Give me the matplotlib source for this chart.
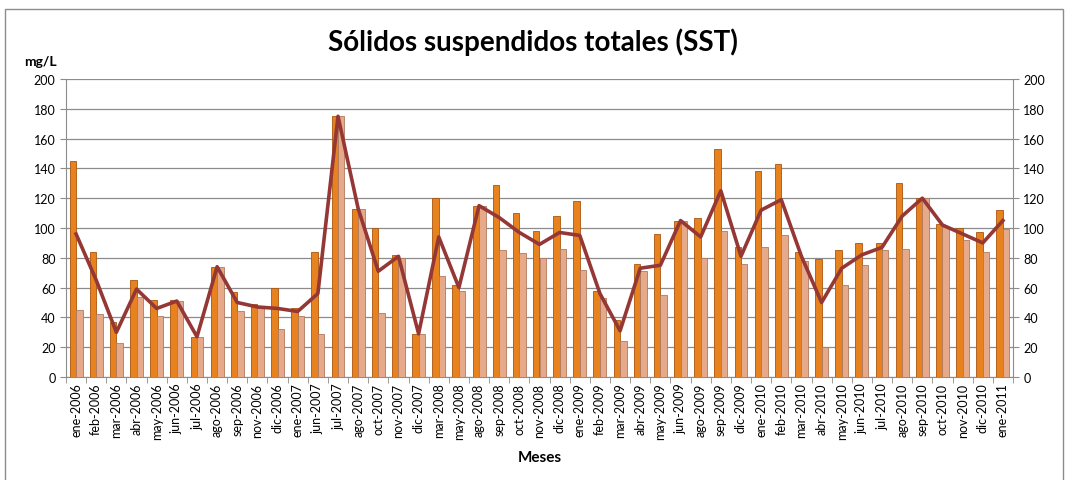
import numpy as np
import matplotlib.pyplot as plt
from matplotlib.patches import Rectangle

# meses con muestreo
meses = ["ene-2006", "feb-2006", "mar-2006", "abr-2006", "may-2006", "jun-2006",
         "jul-2006", "ago-2006", "sep-2006", "nov-2006", "dic-2006", "ene-2007",
         "jun-2007", "jul-2007", "ago-2007", "oct-2007", "nov-2007", "dic-2007",
         "mar-2008", "may-2008", "ago-2008", "sep-2008", "oct-2008", "nov-2008",
         "dic-2008", "ene-2009", "feb-2009", "mar-2009", "abr-2009", "may-2009",
         "jun-2009", "ago-2009", "sep-2009", "dic-2009", "ene-2010", "feb-2010",
         "mar-2010", "abr-2010", "may-2010", "jun-2010", "jul-2010", "ago-2010",
         "sep-2010", "oct-2010", "nov-2010", "dic-2010", "ene-2011"]

# barras naranjas (serie 1)
sst_1 = [145, 84, 37, 65, 52, 52, 27, 74, 57, 49, 60, 46, 84, 175, 113, 100, 82, 29,
         120, 62, 115, 129, 110, 98, 108, 118, 58, 38, 76, 96, 105, 107, 153, 87,
         138, 143, 84, 79, 85, 90, 90, 130, 120, 103, 100, 97, 112]

# barras claras (serie 2)
sst_2 = [45, 42, 23, 54, 41, 51, 27, 74, 44, 46, 32, 41, 29, 175, 113, 43, 80, 29,
         68, 58, 115, 85, 83, 80, 86, 72, 53, 24, 71, 55, 105, 80, 98, 76,
         87, 95, 78, 20, 62, 75, 85, 86, 120, 101, 92, 84, 99]

# linea (promedio)
sst_prom = [96, 65, 30, 59, 46, 51, 27, 74, 50, 47, 46, 44, 56, 175, 113, 71, 81, 29,
            94, 60, 115, 107, 97, 89, 97, 95, 56, 31, 73, 75, 105, 94, 125, 81,
            112, 119, 81, 50, 73, 82, 87, 108, 120, 102, 96, 90, 105]

fig = plt.figure(figsize=(10.66, 4.81), dpi=100)
ax = fig.add_axes([66 / 1066, 1 - 378 / 481, (1013 - 66) / 1066, (378 - 80) / 481])

x = np.arange(len(meses))
w = 0.32
ax.bar(x - w / 2, sst_1, width=w, color="#E8821E", edgecolor="#A9550F", linewidth=0.6, zorder=3)
ax.bar(x + w / 2, sst_2, width=w, color="#E6A98A", edgecolor="#B07A5E", linewidth=0.6, zorder=3)
ax.plot(x, sst_prom, color="#953735", linewidth=2.6, zorder=4)

ax.set_xlim(-0.5, len(meses) - 0.5)
ax.set_ylim(0, 200)
ax.set_yticks(range(0, 201, 20))
ax.yaxis.grid(True, color="#8c8c8c", linewidth=0.9, zorder=0)
ax.set_axisbelow(True)

ax.set_xticks(x)
ax.set_xticklabels(meses, rotation=90, fontsize=9, family="Lato")
ax.set_xticks(np.arange(-0.5, len(meses), 1), minor=True)
ax.tick_params(axis="x", which="major", length=0, pad=4)
ax.tick_params(axis="x", which="minor", length=4, color="#8c8c8c")
ax.tick_params(axis="y", labelsize=9, length=4, color="#8c8c8c")
for lbl in ax.get_yticklabels():
    lbl.set_family("Lato")

for s in ["left", "bottom"]:
    ax.spines[s].set_color("#8c8c8c")
ax.spines["top"].set_visible(False)
ax.spines["right"].set_visible(False)

ax2 = ax.twinx()
ax2.set_ylim(0, 200)
ax2.set_yticks(range(0, 201, 20))
ax2.tick_params(axis="y", labelsize=9, length=4, color="#8c8c8c")
for lbl in ax2.get_yticklabels():
    lbl.set_family("Lato")
for s in ["left", "top", "bottom"]:
    ax2.spines[s].set_visible(False)
ax2.spines["right"].set_color("#8c8c8c")

fig.text(0.5, 1 - 42 / 481, "Sólidos suspendidos totales (SST)", ha="center", va="center",
         fontsize=20, fontweight="bold", family="Lato")
fig.text(40 / 1066, 1 - 62 / 481, "mg/L", ha="center", va="center",
         fontsize=10, fontweight="bold", family="Lato")
fig.text(540 / 1066, 1 - 458 / 481, "Meses", ha="center", va="center",
         fontsize=11, fontweight="bold", family="Lato")

fig.patches.append(Rectangle((5 / 1066, -0.02), 1058 / 1066, 1 - 10 / 481 + 0.02,
                             transform=fig.transFigure, fill=False,
                             edgecolor="#8c8c8c", linewidth=1))

fig.savefig("out.png", dpi=100)
